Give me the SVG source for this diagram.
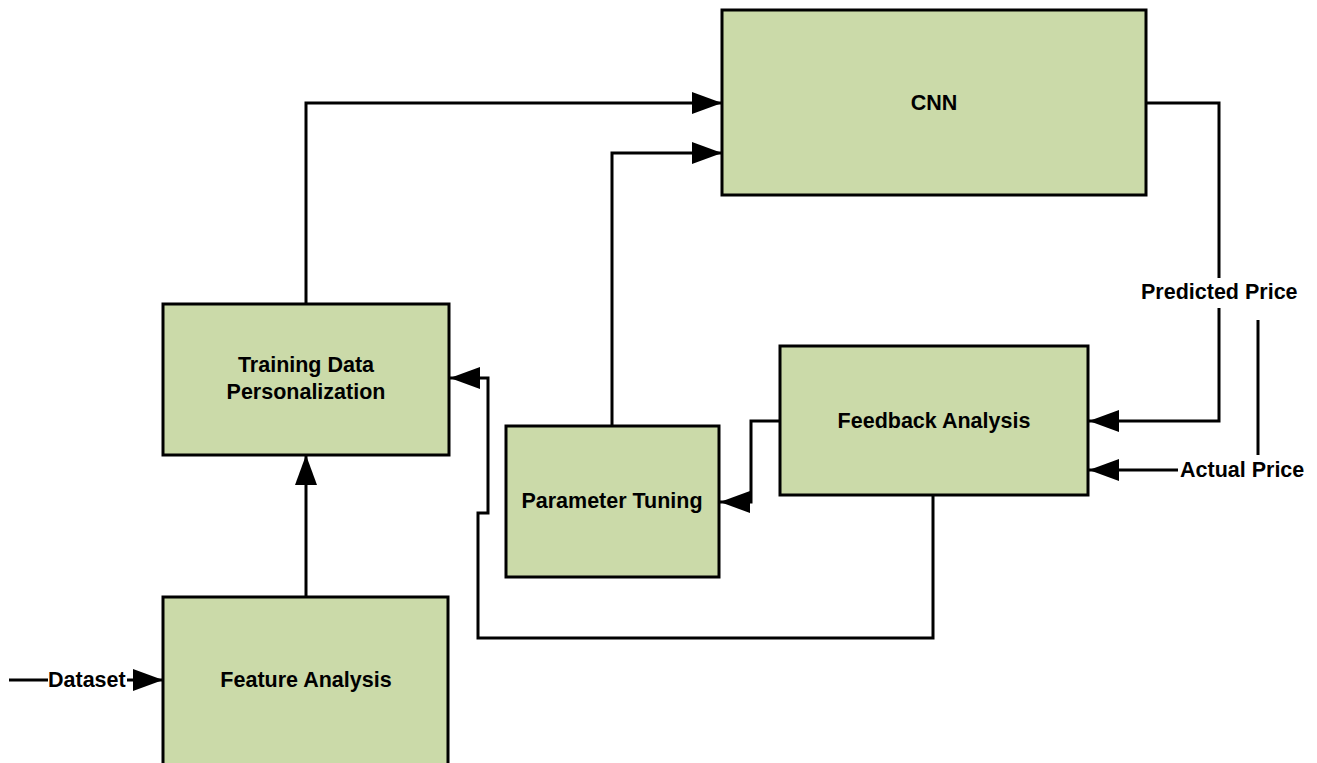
<svg xmlns="http://www.w3.org/2000/svg" width="1317" height="763" viewBox="0 0 1317 763">
<style>
.box{fill:#cbdaa9;stroke:#000;stroke-width:3}
.lbl{font-family:"Liberation Sans",Arial,sans-serif;font-weight:bold;font-size:21.5px;fill:#000}
.c{text-anchor:middle}
.wire{fill:none;stroke:#000;stroke-width:3}
</style>
<defs>
<marker id="ah" markerUnits="userSpaceOnUse" markerWidth="31" markerHeight="22" refX="30" refY="11" orient="auto">
<path d="M0,0 L30,11 L0,22 z" fill="#000"/>
</marker>
</defs>
<rect x="0" y="0" width="1317" height="763" fill="#fff"/>
<g id="connectors">
<path class="wire" d="M9,680 H48"/>
<path class="wire" d="M127,680 H163" marker-end="url(#ah)"/>
<path class="wire" d="M306,597 V455" marker-end="url(#ah)"/>
<path class="wire" d="M306,304 V103 H722" marker-end="url(#ah)"/>
<path class="wire" d="M612,426 V153 H722" marker-end="url(#ah)"/>
<path class="wire" d="M1146,103 H1219 V278 M1219,308 V421 H1089" marker-end="url(#ah)"/>
<path class="wire" d="M1178,470 H1089" marker-end="url(#ah)"/>
<path class="wire" d="M1258,320 V455"/>
<path class="wire" d="M780,421 H751 V502 H720" marker-end="url(#ah)"/>
<path class="wire" d="M933,495 V638 H478 V513 H488 V378 H450" marker-end="url(#ah)"/>
</g>
<g id="cnn">
<rect class="box" x="722" y="10" width="424" height="185"/>
<text class="lbl c" x="934" y="110">CNN</text>
</g>
<g id="training">
<rect class="box" x="163" y="304" width="286" height="151"/>
<text class="lbl c" x="306" y="372">Training Data</text>
<text class="lbl c" x="306" y="399">Personalization</text>
</g>
<g id="feedback">
<rect class="box" x="780" y="346" width="308" height="149"/>
<text class="lbl c" x="934" y="428">Feedback Analysis</text>
</g>
<g id="param">
<rect class="box" x="506" y="426" width="213" height="151"/>
<text class="lbl c" x="612" y="508">Parameter Tuning</text>
</g>
<g id="feature">
<rect class="box" x="163" y="597" width="285" height="180"/>
<text class="lbl c" x="306" y="687">Feature Analysis</text>
</g>
<g id="labels">
<text class="lbl" x="48" y="687">Dataset</text>
<text class="lbl" x="1141" y="299">Predicted Price</text>
<text class="lbl" x="1180" y="477">Actual Price</text>
</g>
</svg>
